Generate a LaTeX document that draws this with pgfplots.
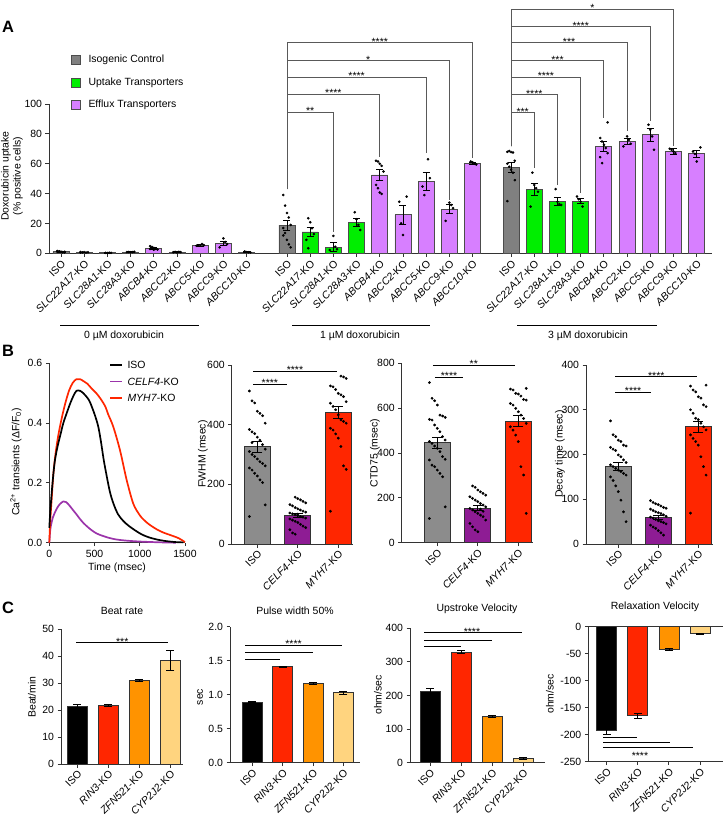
\documentclass[border=0pt]{standalone}
\usepackage{pgfplots}
\pgfplotsset{compat=1.18}
\usepackage{fontspec}
\setmainfont{Liberation Sans}

\definecolor{aGray}{HTML}{808080}
\definecolor{aGreen}{HTML}{00EE00}
\definecolor{aViolet}{HTML}{D77FFF}
\definecolor{bGray}{HTML}{8C8C8C}
\definecolor{bPurple}{HTML}{8E1C94}
\definecolor{bRed}{HTML}{FF2600}
\definecolor{lPurple}{HTML}{9B34AA}
\definecolor{cOrange}{HTML}{FF9300}
\definecolor{cYellow}{HTML}{FFD47F}

\pgfplotsset{
  pr/.style={scale only axis, anchor=south west, clip=false, enlargelimits=false,
    axis x line*=bottom, axis y line*=left,
    axis line style={line width=0.9bp, black!80},
    major tick style={line width=0.9bp, black!80},
    major tick length=3.5bp, tick align=outside,
    ticklabel style={font=\fontsize{10.5}{12}\selectfont},
    /pgf/number format/assume math mode=true,
    /pgf/number format/1000 sep={}},
  rotx/.style={xticklabel style={rotate=45, anchor=north east, inner sep=1.5bp}},
  mybar/.style={ybar, bar width=#1, bar shift=0pt, draw=black!80, line width=0.8bp},
  mydots/.style={only marks, mark=*, mark size=#1, mark options={draw=black, fill=black}},
  myerr/.style={draw=none, mark=none, forget plot,
    /pgfplots/error bars/y dir=both, /pgfplots/error bars/y explicit,
    /pgfplots/error bars/error bar style={draw=black, line width=0.8bp},
    /pgfplots/error bars/error mark options={rotate=90, draw=black, line width=0.8bp, mark size=#1}},
}
\tikzset{stars/.style={font=\fontsize{10.5}{11}\selectfont, inner sep=0pt, anchor=base, yshift=-2.5bp},
  sig/.style={line width=0.8bp, black!65}}
% bracket: x1, x2, left leg bottom, y, right leg bottom, mid, text
\newcommand{\brk}[7]{\draw[sig] (axis cs:#1,#3) -- (axis cs:#1,#4) -- (axis cs:#2,#4) -- (axis cs:#2,#5);
  \node[stars] at (axis cs:#6,#4) {#7};}
\newcommand{\hl}[5]{\draw[line width=0.9bp] (axis cs:#1,#3) -- (axis cs:#2,#3);
  \node[stars] at (axis cs:#4,#3) {#5};}

\begin{document}
\begin{tikzpicture}[font=\fontsize{10.5}{12}\selectfont]
\useasboundingbox (0,0) rectangle (728bp,-819bp);

% ---------------- Panel A ----------------
\begin{axis}[pr, rotx, at={(49bp,-253.3bp)}, width=663bp, height=149.3bp,
  xmin=-0.517, xmax=28.06, ymin=0, ymax=100, ytick={0,20,...,100},
  xtick={0,1,2,3,4,5,6,7,8,9.74,10.74,11.74,12.74,13.74,14.74,15.74,16.74,17.74,19.4,20.4,21.4,22.4,23.4,24.4,25.4,26.4,27.4},
  xticklabels={ISO,\textit{SLC22A17}-KO,\textit{SLC28A1}-KO,\textit{SLC28A3}-KO,\textit{ABCB4}-KO,\textit{ABCC2}-KO,\textit{ABCC5}-KO,\textit{ABCC9}-KO,\textit{ABCC10}-KO,
    ISO,\textit{SLC22A17}-KO,\textit{SLC28A1}-KO,\textit{SLC28A3}-KO,\textit{ABCB4}-KO,\textit{ABCC2}-KO,\textit{ABCC5}-KO,\textit{ABCC9}-KO,\textit{ABCC10}-KO,
    ISO,\textit{SLC22A17}-KO,\textit{SLC28A1}-KO,\textit{SLC28A3}-KO,\textit{ABCB4}-KO,\textit{ABCC2}-KO,\textit{ABCC5}-KO,\textit{ABCC9}-KO,\textit{ABCC10}-KO}]
\addplot[mybar=16bp, fill=aGray, draw=black!70] table {
x y
0 1.0
9.74 18.8
19.4 57.5
};
\addplot[mybar=16bp, fill=aGreen, draw=black!70] table {
x y
1 0.7
2 0.3
3 0.8
10.74 14.3
11.74 4.2
12.74 20.6
20.4 43
21.4 35
22.4 35
};
\addplot[mybar=16bp, fill=aViolet, draw=black!70] table {
x y
4 3.3
5 0.8
6 5.3
7 6.7
8 0.8
13.74 52.5
14.74 25.8
15.74 48
16.74 29.5
17.74 60.4
23.4 71.6
24.4 74.8
25.4 79.4
26.4 68.2
27.4 66.6
};
\addplot[mydots=1.1bp, x filter/.expression={x+0.08*(mod(\coordindex,5)-2)}] coordinates {
(0,1.5)(0,1.2)(0,1.0)(0,0.8)(0,0.6)(0,1.1)(0,1.3)(0,0.9)(0,0.7)(0,1.0)
(1,0.9)(1,0.6)(1,0.8)(1,0.5)(1,0.7)(1,0.6)
(2,0.3)(2,0.2)(2,0.4)(2,0.3)
(3,0.8)(3,0.9)(3,0.7)(3,0.8)(3,1.0)
(4,4.8)(4,4.2)(4,3.6)(4,3.0)(4,2.6)(4,2.9)(4,3.3)(4,2.4)
(5,1.0)(5,0.8)(5,0.7)(5,0.9)(5,0.6)
(6,6.2)(6,5.5)(6,5.0)(6,5.2)
(7,10)(7,7.5)(7,6.2)(7,4.0)
(8,1.2)(8,0.8)(8,0.7)(8,0.6)
(9.74,39)(9.74,32)(9.74,27)(9.74,24)(9.74,19)(9.74,17)(9.74,13.6)(9.74,9)(9.74,6)(9.74,4)(9.74,12)
(10.74,23.5)(10.74,20.8)(10.74,16.8)(10.74,12.8)(10.74,9)(10.74,3.4)
(11.74,11.6)(11.74,4.4)(11.74,2.7)(11.74,2.2)
(12.74,27.5)(12.74,22.8)(12.74,19)(12.74,15.6)
(13.74,62)(13.74,61.5)(13.74,60)(13.74,58.6)(13.74,54.8)(13.74,45.8)(13.74,43.6)(13.74,40.7)(13.74,39.8)
(14.74,38)(14.74,34.6)(14.74,20)(14.74,12.3)
(15.74,63)(15.74,50.3)(15.74,44.7)(15.74,39)
(16.74,34)(16.74,32.4)(16.74,30.2)(16.74,21.7)
(17.74,61.5)(17.74,61)(17.74,60)(17.74,59.5)
(19.4,68)(19.4,68.5)(19.4,67.8)(19.4,67.5)(19.4,62)(19.4,60)(19.4,58)(19.4,56)(19.4,54)(19.4,49)(19.4,35)
(20.4,54)(20.4,45.8)(20.4,43.6)(20.4,41.3)(20.4,31.3)
(21.4,43)(21.4,34.6)(21.4,33)(21.4,32.4)
(22.4,38)(22.4,36.2)(22.4,34.6)(22.4,31.3)
(23.4,87.7)(23.4,77.2)(23.4,74.9)(23.4,72.7)(23.4,70.5)(23.4,67.1)(23.4,64.4)(23.4,60.4)
(24.4,78.3)(24.4,76)(24.4,73.4)(24.4,71.6)
(25.4,86.1)(25.4,82.8)(25.4,78.3)(25.4,69.3)
(26.4,70)(26.4,69.3)(26.4,68.2)(26.4,67.1)
(27.4,70.9)(27.4,68.2)(27.4,66.6)(27.4,61.5)
};
\addplot[myerr=3.5bp] table[x=x, y=y, y error=e] {
x y e
0 1.0 0.2
1 0.7 0.2
2 0.3 0.1
3 0.8 0.2
4 3.3 0.5
5 0.8 0.2
6 5.3 0.5
7 6.7 1.3
8 0.8 0.2
9.74 18.8 3.5
10.74 14.3 3.0
11.74 4.2 3.0
12.74 20.6 2.8
13.74 52.5 3.5
14.74 25.8 6.6
15.74 48 6.0
16.74 29.5 3.0
17.74 60.4 0.8
19.4 57.5 3.3
20.4 43 4.0
21.4 35 2.6
22.4 35 1.9
23.4 71.6 3.3
24.4 74.8 2.0
25.4 79.4 4.5
26.4 68.2 1.8
27.4 66.6 2.3
};
% brackets 1 uM
\brk{9.74}{11.74}{43}{94.6}{14}{10.74}{**}
\brk{9.74}{13.74}{43}{106.5}{64.6}{11.74}{****}
\brk{9.74}{15.74}{43}{118}{67}{12.74}{****}
\brk{9.74}{16.74}{43}{129}{36}{13.24}{*}
\brk{9.74}{17.74}{43}{141}{64}{13.74}{****}
% brackets 3 uM
\brk{19.4}{20.4}{71.6}{94.3}{57}{19.9}{***}
\brk{19.4}{21.4}{71.6}{106.2}{45.8}{20.4}{****}
\brk{19.4}{22.4}{71.6}{117.8}{40.3}{20.9}{****}
\brk{19.4}{23.4}{71.6}{129}{90.6}{21.4}{***}
\brk{19.4}{24.4}{71.6}{141}{81.6}{21.9}{***}
\brk{19.4}{25.4}{71.6}{151.7}{88.3}{22.4}{****}
\brk{19.4}{26.4}{71.6}{163.3}{71.6}{22.9}{*}
\end{axis}

\node[font=\fontsize{16.5}{17}\selectfont\bfseries] at (8bp,-27bp) {A};
\node[rotate=90, align=center, font=\fontsize{10.5}{12}\selectfont] at (12bp,-176bp) {Doxorubicin uptake\\(\% positive cells)};
\draw[fill=aGray, draw=black!70, line width=0.8bp] (71bp,-55.5bp) rectangle (80bp,-64.5bp);
\node[anchor=west] at (85bp,-60bp) {Isogenic Control};
\draw[fill=aGreen, draw=black!70, line width=0.8bp] (71bp,-78.5bp) rectangle (80bp,-87.5bp);
\node[anchor=west] at (85bp,-83bp) {Uptake Transporters};
\draw[fill=aViolet, draw=black!70, line width=0.8bp] (71bp,-100.5bp) rectangle (80bp,-109.5bp);
\node[anchor=west] at (85bp,-105bp) {Efflux Transporters};
\draw[line width=0.9bp] (60bp,-325.7bp) -- (199bp,-325.7bp);
\node at (124bp,-336bp) {0 µM doxorubicin};
\draw[line width=0.9bp] (292bp,-325.7bp) -- (430bp,-325.7bp);
\node at (360bp,-336bp) {1 µM doxorubicin};
\draw[line width=0.9bp] (517bp,-325.7bp) -- (657bp,-325.7bp);
\node at (588bp,-336bp) {3 µM doxorubicin};

% ---------------- Panel B ----------------
\node[font=\fontsize{16.5}{17}\selectfont\bfseries] at (8bp,-351bp) {B};
\begin{axis}[pr, at={(49.3bp,-542.7bp)}, width=135.7bp, height=179.4bp,
  xmin=0, xmax=1500, ymin=0, ymax=0.6, xtick={0,500,1000,1500}, ytick={0,0.2,0.4,0.6},
  yticklabel style={/pgf/number format/.cd, fixed, fixed zerofill, precision=1}]
\addplot[lPurple, line width=1.7bp, smooth] coordinates {
(0,0)(10,0.04)(20,0.06)(40,0.085)(60,0.1)(90,0.118)(120,0.13)(155,0.138)(185,0.136)(221,0.125)(260,0.11)(300,0.095)(332,0.082)(380,0.065)(442,0.048)(500,0.035)(553,0.027)(650,0.017)(737,0.011)(850,0.007)(995,0.004)(1150,0.002)(1250,0.001)(1400,0)
};
\addplot[bRed, line width=1.7bp, smooth] coordinates {
(0,0)(10,0.07)(25,0.14)(45,0.23)(70,0.3)(100,0.36)(140,0.42)(180,0.47)(220,0.51)(260,0.535)(300,0.547)(340,0.547)(380,0.54)(420,0.532)(470,0.515)(520,0.5)(570,0.48)(620,0.455)(650,0.43)(707,0.388)(781,0.31)(855,0.21)(929,0.13)(1000,0.092)(1040,0.078)(1100,0.062)(1186,0.045)(1260,0.034)(1334,0.026)(1430,0.015)(1500,0.002)
};
\addplot[black, line width=1.7bp, smooth] coordinates {
(0,0.05)(10,0.1)(26,0.165)(45,0.23)(63,0.277)(90,0.32)(118,0.355)(155,0.4)(192,0.433)(230,0.465)(265,0.49)(300,0.508)(340,0.508)(376,0.5)(420,0.485)(450,0.47)(500,0.43)(540,0.39)(570,0.34)(600,0.28)(630,0.23)(670,0.17)(710,0.13)(760,0.095)(820,0.072)(880,0.056)(950,0.041)(1020,0.028)(1100,0.018)(1200,0.01)(1300,0.005)(1400,0.002)(1480,0.001)
};
\end{axis}
\draw[black, line width=1.7bp] (110bp,-365bp) -- (122bp,-365bp);
\node[anchor=west] at (124bp,-365bp) {ISO};
\draw[lPurple, line width=1.7bp] (110bp,-381.5bp) -- (122bp,-381.5bp);
\node[anchor=west] at (124bp,-381.5bp) {\textit{CELF4}-KO};
\draw[bRed, line width=1.7bp] (110bp,-398bp) -- (122bp,-398bp);
\node[anchor=west] at (124bp,-398bp) {\textit{MYH7}-KO};
\node[rotate=90] at (16bp,-462bp) {Ca\textsuperscript{2+} transients (ΔF/F\textsubscript{0})};
\node at (117bp,-568bp) {Time (msec)};

% FWHM
\begin{axis}[pr, rotx, at={(231.7bp,-544bp)}, width=121.3bp, height=179bp,
  xmin=-0.632, xmax=2.363, ymin=0, ymax=600, ytick={0,200,400,600},
  xtick={0,1,2}, xticklabels={ISO,\textit{CELF4}-KO,\textit{MYH7}-KO}]
\addplot[mybar=26bp, fill=bGray] coordinates {(0,326)};
\addplot[mybar=26bp, fill=bPurple] coordinates {(1,97)};
\addplot[mybar=26bp, fill=bRed] coordinates {(2,441)};
\addplot[mydots=1.2bp, x filter/.expression={x+0.065*(mod(\coordindex,7)-3)}] coordinates {
(0,513)(0,480)(0,473)(0,445)(0,438)(0,430)(0,405)(0,384)(0,376)(0,370)(0,358)(0,348)(0,333)(0,318)(0,310)(0,300)(0,293)(0,285)(0,276)(0,270)(0,262)(0,255)(0,248)(0,237)(0,228)(0,215)(0,206)(0,131)(0,92)(0,340)
(1,157)(1,152)(1,148)(1,143)(1,138)(1,132)(1,128)(1,122)(1,118)(1,114)(1,110)(1,107)(1,104)(1,101)(1,98)(1,95)(1,92)(1,90)(1,87)(1,84)(1,80)(1,76)(1,72)(1,66)(1,60)(1,55)(1,48)(1,37)(1,33)(1,100)
(2,563)(2,560)(2,555)(2,530)(2,527)(2,518)(2,505)(2,500)(2,494)(2,477)(2,472)(2,461)(2,450)(2,433)(2,416)(2,411)(2,405)(2,388)(2,382)(2,369)(2,355)(2,327)(2,262)(2,250)(2,110)
};
\addplot[myerr=5bp] table[x=x, y=y, y error=e] {
x y e
0 326 18
1 97 7
2 441 20
};
\hl{-0.1}{0.73}{535}{0.31}{****}
\hl{-0.1}{1.96}{580}{0.93}{****}
\end{axis}
\node[rotate=90] at (203bp,-454bp) {FWHM (msec)};

% CTD75
\begin{axis}[pr, rotx, at={(401.7bp,-542.7bp)}, width=131.3bp, height=179.4bp,
  xmin=-0.879, xmax=2.363, ymin=0, ymax=800, ytick={0,200,...,800},
  xtick={0,1,2}, xticklabels={ISO,\textit{CELF4}-KO,\textit{MYH7}-KO}]
\addplot[mybar=26bp, fill=bGray] coordinates {(0,446)};
\addplot[mybar=26bp, fill=bPurple] coordinates {(1,155)};
\addplot[mybar=26bp, fill=bRed] coordinates {(2,543)};
\addplot[mydots=1.2bp, x filter/.expression={x+0.065*(mod(\coordindex,7)-3)}] coordinates {
(0,714)(0,644)(0,633)(0,614)(0,569)(0,565)(0,559)(0,550)(0,547)(0,525)(0,510)(0,495)(0,473)(0,458)(0,451)(0,443)(0,431)(0,421)(0,406)(0,384)(0,372)(0,369)(0,346)(0,339)(0,324)(0,309)(0,294)(0,160)(0,108)
(1,253)(1,247)(1,235)(1,227)(1,220)(1,212)(1,205)(1,198)(1,190)(1,183)(1,175)(1,168)(1,160)(1,153)(1,146)(1,138)(1,131)(1,123)(1,116)(1,101)(1,86)(1,71)(1,57)(1,49)(1,150)(1,140)
(2,688)(2,685)(2,681)(2,666)(2,663)(2,654)(2,639)(2,636)(2,621)(2,614)(2,599)(2,584)(2,569)(2,554)(2,532)(2,517)(2,502)(2,480)(2,451)(2,339)(2,302)(2,131)
};
\addplot[myerr=5bp] table[x=x, y=y, y error=e] {
x y e
0 446 24
1 155 10
2 543 25
};
\hl{-0.06}{0.64}{737}{0.29}{****}
\hl{-0.11}{1.92}{792}{0.9}{**}
\end{axis}
\node[rotate=90] at (375bp,-453bp) {CTD75 (msec)};

% Decay
\begin{axis}[pr, rotx, at={(586bp,-544bp)}, width=127bp, height=179bp,
  xmin=-0.8075, xmax=2.3675, ymin=0, ymax=400, ytick={0,100,...,400},
  xtick={0,1,2}, xticklabels={ISO,\textit{CELF4}-KO,\textit{MYH7}-KO}]
\addplot[mybar=26bp, fill=bGray] coordinates {(0,172.7)};
\addplot[mybar=26bp, fill=bPurple] coordinates {(1,59.6)};
\addplot[mybar=26bp, fill=bRed] coordinates {(2,262)};
\addplot[mydots=1.2bp, x filter/.expression={x+0.065*(mod(\coordindex,7)-3)}] coordinates {
(0,275)(0,244)(0,240)(0,232)(0,229)(0,221)(0,219)(0,216)(0,212)(0,209)(0,199)(0,195)(0,188)(0,182)(0,177)(0,173)(0,169)(0,165)(0,162)(0,158)(0,154)(0,150)(0,142)(0,130)(0,117)(0,98)(0,72)(0,50)
(1,97)(1,93)(1,90)(1,88)(1,85)(1,82)(1,80)(1,78)(1,75)(1,72)(1,70)(1,68)(1,65)(1,62)(1,60)(1,58)(1,55)(1,52)(1,50)(1,48)(1,45)(1,42)(1,38)(1,35)(1,30)(1,25)(1,20)
(2,355)(2,353)(2,344)(2,340)(2,329)(2,326)(2,311)(2,307)(2,300)(2,292)(2,281)(2,278)(2,270)(2,262)(2,255)(2,244)(2,236)(2,229)(2,221)(2,195)(2,173)(2,154)(2,69)
};
\addplot[myerr=5bp] table[x=x, y=y, y error=e] {
x y e
0 172.7 9
1 59.6 4
2 262 13
};
\hl{-0.08}{0.81}{339}{0.37}{****}
\hl{-0.08}{1.97}{374}{0.95}{****}
\end{axis}
\node[rotate=90] at (560bp,-454bp) {Decay time (msec)};

% ---------------- Panel C ----------------
\node[font=\fontsize{16.5}{17}\selectfont\bfseries] at (8bp,-608bp) {C};

% Beat rate
\begin{axis}[pr, rotx, at={(61bp,-764bp)}, width=121.7bp, height=135bp,
  xmin=-0.526, xmax=3.4, ymin=0, ymax=50, ytick={0,10,...,50},
  xtick={0,1,2,3}, xticklabels={ISO,\textit{RIN3}-KO,\textit{ZFN521}-KO,\textit{CYP2J2}-KO}]
\addplot[mybar=20bp, fill=black] coordinates {(0,21.5)};
\addplot[mybar=20bp, fill=bRed] coordinates {(1,21.8)};
\addplot[mybar=20bp, fill=cOrange] coordinates {(2,31.0)};
\addplot[mybar=20bp, fill=cYellow] coordinates {(3,38.3)};
\addplot[myerr=4bp] table[x=x, y=y, y error=e] {
x y e
0 21.5 0.5
1 21.8 0.3
2 31.0 0.3
3 38.3 3.8
};
\hl{-0.04}{2.93}{44.9}{1.45}{***}
\end{axis}
\node at (122bp,-611bp) {Beat rate};
\node[rotate=90] at (32bp,-697bp) {Beat/min};

% Pulse width
\begin{axis}[pr, rotx, at={(230bp,-762.7bp)}, width=130bp, height=136bp,
  xmin=-0.735, xmax=3.551, ymin=0, ymax=2, ytick={0,0.5,...,2},
  yticklabel style={/pgf/number format/.cd, fixed, fixed zerofill, precision=1},
  xtick={0,1,2,3}, xticklabels={ISO,\textit{RIN3}-KO,\textit{ZFN521}-KO,\textit{CYP2J2}-KO}]
\addplot[mybar=20bp, fill=black] coordinates {(0,0.89)};
\addplot[mybar=20bp, fill=bRed] coordinates {(1,1.41)};
\addplot[mybar=20bp, fill=cOrange] coordinates {(2,1.165)};
\addplot[mybar=20bp, fill=cYellow] coordinates {(3,1.03)};
\addplot[myerr=4bp] table[x=x, y=y, y error=e] {
x y e
0 0.89 0.01
1 1.41 0.01
2 1.165 0.01
3 1.03 0.02
};
\hl{-0.24}{2.95}{1.727}{1.36}{****}
\hl{-0.24}{2.0}{1.618}{0}{}
\hl{-0.24}{0.91}{1.52}{0}{}
\end{axis}
\node at (295bp,-611bp) {Pulse width 50\%};
\node[rotate=90] at (200bp,-697bp) {sec};

% Upstroke velocity
\begin{axis}[pr, rotx, at={(410bp,-762.7bp)}, width=135bp, height=134.4bp,
  xmin=-0.643, xmax=3.698, ymin=0, ymax=400, ytick={0,100,...,400},
  xtick={0,1,2,3}, xticklabels={ISO,\textit{RIN3}-KO,\textit{ZFN521}-KO,\textit{CYP2J2}-KO}]
\addplot[mybar=20bp, fill=black] coordinates {(0,212)};
\addplot[mybar=20bp, fill=bRed] coordinates {(1,329)};
\addplot[mybar=20bp, fill=cOrange] coordinates {(2,139)};
\addplot[mybar=20bp, fill=cYellow] coordinates {(3,13)};
\addplot[myerr=4bp] table[x=x, y=y, y error=e] {
x y e
0 212 8
1 329 4
2 139 3
3 13 2
};
\hl{-0.19}{2.96}{387}{1.35}{****}
\hl{-0.19}{2.0}{365}{0}{}
\hl{-0.19}{1.0}{347}{0}{}
\end{axis}
\node at (477bp,-609bp) {Upstroke Velocity};
\node[rotate=90] at (378bp,-695bp) {ohm/sec};

% Relaxation velocity
\begin{axis}[pr, rotx, at={(588.3bp,-761.7bp)}, width=134.7bp, height=135bp,
  xmin=-0.592, xmax=3.739, ymin=-250, ymax=0, ytick={-250,-200,...,0},
  xtick={0,1,2,3}, xticklabels={ISO,\textit{RIN3}-KO,\textit{ZFN521}-KO,\textit{CYP2J2}-KO}]
\addplot[mybar=20bp, fill=black] coordinates {(0,-192)};
\addplot[mybar=20bp, fill=bRed] coordinates {(1,-165)};
\addplot[mybar=20bp, fill=cOrange] coordinates {(2,-42)};
\addplot[mybar=20bp, fill=cYellow] coordinates {(3,-13)};
\addplot[myerr=4bp] table[x=x, y=y, y error=e] {
x y e
0 -192 7
1 -165 4
2 -42 1
3 -13 1
};
\draw[line width=0.9bp, black!80] (rel axis cs:0,1) -- (rel axis cs:1,1);
\hl{-0.11}{0.96}{-205.6}{0}{}
\hl{-0.11}{2.04}{-214}{0}{}
\hl{-0.11}{2.78}{-223.3}{0}{}
\node[stars] at (axis cs:1.07,-242) {****};
\end{axis}
\node at (655bp,-607bp) {Relaxation Velocity};
\node[rotate=90] at (550bp,-694bp) {ohm/sec};

\end{tikzpicture}
\end{document}
